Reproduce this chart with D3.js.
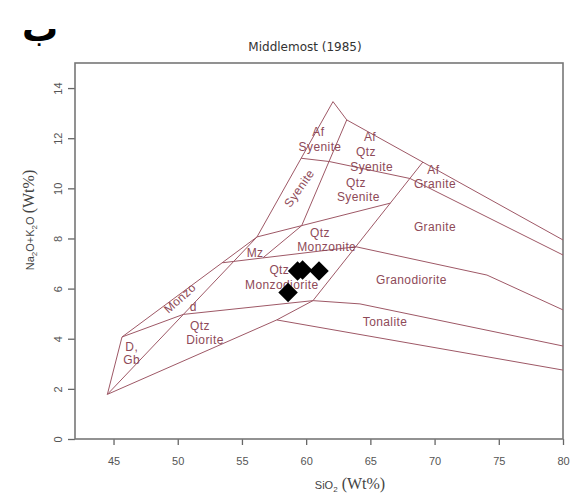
<!DOCTYPE html>
<html>
<head>
<meta charset="utf-8">
<script src="https://d3js.org/d3.v7.min.js"></script>
<style>
  body { margin: 0; background: #fff; }
  .lbl { font-family: "Liberation Sans", Arial, sans-serif; font-size: 12px; letter-spacing: 0.4px; fill: #8e4a58; text-anchor: middle; dominant-baseline: central; }
  .tick text { font-family: "Liberation Sans", Arial, sans-serif; font-size: 11px; fill: #555; }
</style>
</head>
<body>
<div id="chart"></div>
<script>
// field boundaries (SiO2, Na2O+K2O)
var outerLeft   = [[44.52, 1.78], [45.66, 4.07], [56.17, 8.06], [62.09, 13.46]];
var topLine     = [[62.09, 13.46], [63.16, 12.73], [80, 7.94]];
var afLine      = [[59.61, 11.20], [61.79, 11.07], [68.10, 10.39], [80, 7.34]];
var graniteDiag = [[69.09, 11.05], [60.53, 5.52]];
var syeniteBase = [[56.17, 8.06], [66.56, 9.41]];
var syeniteDiag = [[63.16, 12.73], [59.65, 8.51], [56.64, 7.23]];
var monzoDiag   = [[44.52, 1.78], [56.17, 8.06]];
var granodTop   = [[53.48, 7.03], [63.87, 7.67], [74.08, 6.54], [80, 5.15]];
var dioriteTop  = [[45.66, 4.07], [50.43, 4.97], [60.53, 5.52]];
var tonaliteTop = [[60.53, 5.52], [64.19, 5.39], [80, 3.71]];
var lowerLine   = [[44.52, 1.78], [57.71, 4.75], [60.53, 5.52]];
var tonaliteBot = [[57.71, 4.75], [80, 2.75]];
var boundaries = [outerLeft, topLine, afLine, graniteDiag, syeniteBase, syeniteDiag,
                  monzoDiag, granodTop, dioriteTop, tonaliteTop, lowerLine, tonaliteBot];

// field names
var labelText = ["Af", "Syenite", "Af", "Qtz", "Syenite", "Qtz", "Syenite", "Syenite",
                 "Af", "Granite", "Granite", "Granodiorite", "Tonalite", "Qtz", "Monzonite",
                 "Mz", "Qtz", "Monzodiorite", "Monzo", "d", "Qtz", "Diorite", "D,", "Gb"];
var labelX = [60.95, 61.08, 64.97, 64.66, 65.10, 63.88, 64.06, 59.47,
              69.90, 70.03, 70.03, 68.20, 66.14, 61.08, 61.60,
              56.02, 57.91, 58.10, 50.18, 51.21, 51.73, 52.12, 46.42, 46.42];
var labelY = [12.26, 11.66, 12.06, 11.46, 10.84, 10.22, 9.64, 10.0,
              10.73, 10.16, 8.45, 6.34, 4.68, 8.21, 7.67,
              7.41, 6.74, 6.14, 5.61, 5.28, 4.51, 3.95, 3.68, 3.15];
var labelAngle = [0, 0, 0, 0, 0, 0, 0, -55, 0, 0, 0, 0, 0, 0, 0, 0, 0, 0, -42, 0, 0, 0, 0, 0];

// samples
var sampleSiO2 = [59.33, 59.72, 61.0, 58.59];
var sampleAlk  = [6.70, 6.74, 6.70, 5.84];

var xTicks = [45, 50, 55, 60, 65, 70, 75, 80];
var yTicks = [0, 2, 4, 6, 8, 10, 12, 14];

var width = 572, height = 500;
var margin = {top: 63, right: 9, bottom: 61, left: 75};

var svg = d3.select("#chart").append("svg")
  .attr("width", width)
  .attr("height", height);

var x = d3.scaleLinear().domain([42, 80]).range([margin.left, width - margin.right]);
var y = d3.scaleLinear().domain([0, 15]).range([height - margin.bottom, margin.top]);

// arabic panel letter + title
svg.append("text")
  .attr("x", 40).attr("y", 41)
  .attr("text-anchor", "middle")
  .style("font-family", "'DejaVu Sans', sans-serif")
  .style("font-weight", "bold")
  .style("font-size", "36px")
  .text("ب");

svg.append("text")
  .attr("x", 305).attr("y", 51)
  .attr("text-anchor", "middle")
  .style("font-family", "'DejaVu Sans', sans-serif")
  .style("font-size", "12px")
  .style("fill", "#333")
  .text("Middlemost (1985)");

// axes
var xAxis = svg.append("g")
  .attr("transform", "translate(0," + y(0) + ")")
  .call(d3.axisBottom(x).tickValues(xTicks).tickSize(6).tickPadding(12));
xAxis.select(".domain").remove();
xAxis.selectAll("line").attr("stroke", "#666").attr("stroke-width", 1.3);

var yAxis = svg.append("g")
  .attr("transform", "translate(" + margin.left + ",0)")
  .call(d3.axisLeft(y).tickValues(yTicks).tickSize(7));
yAxis.select(".domain").remove();
yAxis.selectAll("line").attr("stroke", "#666").attr("stroke-width", 1.3);
yAxis.selectAll("text")
  .attr("x", null).attr("dy", null)
  .attr("text-anchor", "middle")
  .attr("transform", "translate(-17,0) rotate(-90)")
  .attr("dy", "0.35em");

// frame
svg.append("rect")
  .attr("x", margin.left).attr("y", margin.top)
  .attr("width", width - margin.left - margin.right)
  .attr("height", height - margin.top - margin.bottom)
  .attr("fill", "none")
  .attr("stroke", "#777")
  .attr("stroke-width", 1.6);

// axis titles
var yt = svg.append("text")
  .attr("transform", "translate(34,220) rotate(-90)")
  .attr("text-anchor", "middle")
  .style("fill", "#444");
yt.append("tspan").style("font-family", "'Liberation Sans', Arial, sans-serif").style("font-size", "11px").text("Na");
yt.append("tspan").style("font-family", "'Liberation Sans', Arial, sans-serif").style("font-size", "8px").attr("dy", 3).text("2");
yt.append("tspan").style("font-family", "'Liberation Sans', Arial, sans-serif").style("font-size", "11px").attr("dy", -3).text("O+K");
yt.append("tspan").style("font-family", "'Liberation Sans', Arial, sans-serif").style("font-size", "8px").attr("dy", 3).text("2");
yt.append("tspan").style("font-family", "'Liberation Sans', Arial, sans-serif").style("font-size", "11px").attr("dy", -3).text("O ");
yt.append("tspan").style("font-family", "'Liberation Serif', 'Times New Roman', serif").style("font-size", "16px").text("(Wt%)");

var xt = svg.append("text")
  .attr("x", 350).attr("y", 489)
  .attr("text-anchor", "middle")
  .style("fill", "#444");
xt.append("tspan").style("font-family", "'Liberation Sans', Arial, sans-serif").style("font-size", "11px").text("SiO");
xt.append("tspan").style("font-family", "'Liberation Sans', Arial, sans-serif").style("font-size", "8px").attr("dy", 3).text("2");
xt.append("tspan").style("font-family", "'Liberation Serif', 'Times New Roman', serif").style("font-size", "16px").attr("dy", -3).text(" (Wt%)");

// field boundaries
var line = d3.line().x(function(d) { return x(d[0]); }).y(function(d) { return y(d[1]); });
svg.selectAll(".field")
  .data(boundaries)
  .enter().append("path")
  .attr("class", "field")
  .attr("d", line)
  .attr("fill", "none")
  .attr("stroke", "#9e5866")
  .attr("stroke-width", 1);

// field labels
svg.selectAll(".lbl")
  .data(labelText)
  .enter().append("text")
  .attr("class", "lbl")
  .attr("transform", function(d, i) {
    return "translate(" + x(labelX[i]) + "," + y(labelY[i]) + ") rotate(" + labelAngle[i] + ")";
  })
  .text(function(d) { return d; });

// samples
svg.selectAll(".sample")
  .data(sampleSiO2)
  .enter().append("path")
  .attr("class", "sample")
  .attr("d", d3.symbol().type(d3.symbolSquare).size(190))
  .attr("transform", function(d, i) {
    return "translate(" + x(d) + "," + y(sampleAlk[i]) + ") rotate(45)";
  })
  .attr("fill", "#000");
</script>
</body>
</html>
